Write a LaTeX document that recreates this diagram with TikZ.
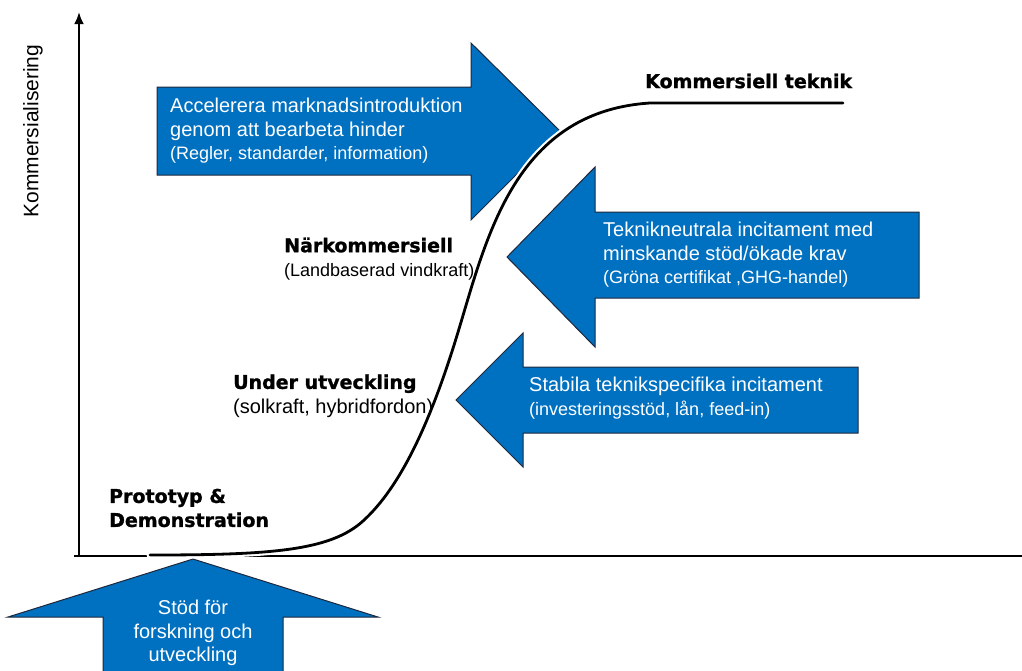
\documentclass[tikz,border=0pt]{standalone}
\usepackage{fontspec}
\setmainfont{Liberation Sans}
\newfontfamily\blackfont{DejaVu Sans}[UprightFont=* Bold, FakeBold=1.2]
\newcommand\smalltextfont{\fontsize{18}{23.5}\selectfont}
\usetikzlibrary{arrows.meta}
\definecolor{arrowblue}{RGB}{0,112,192}
\definecolor{arrowedge}{RGB}{30,40,60}
\tikzset{
  bigarrow/.style={fill=arrowblue, draw=arrowedge, line width=1pt, line join=miter},
  axisline/.style={line width=2.8pt, black},
  curveline/.style={line width=2.8pt, black, line cap=round},
  halo/.style={line width=7pt, white, line cap=round},
  intext/.style={text=white, align=left, anchor=west, inner sep=0pt, font=\fontsize{20}{23.5}\selectfont},
  stagelabel/.style={align=left, anchor=west, inner sep=0pt, font=\fontsize{19}{24.5}\selectfont},
}
\begin{document}
\begin{tikzpicture}[x=1pt,y=-1pt]
\useasboundingbox (0,0) rectangle (1022,670);
\clip (0,0) rectangle (1022,670);
% axes
\coordinate (origin) at (79,556);
\coordinate (ytop) at (79,12);
\coordinate (xleft) at (74,556);
\coordinate (xright) at (1022,556);
\draw[axisline] (xleft) -- (xright);
\draw[axisline, -{Latex[length=12pt,width=10pt]}] (origin) -- (ytop);
\node[rotate=90, inner sep=0pt, font=\fontsize{21}{24}\selectfont] (ylabel) at (33,131) {Kommersialisering};

% arrows
\draw[bigarrow] (157,87) -- (471,87) -- (471,43) -- (560,131) -- (471,220) -- (471,175) -- (157,175) -- cycle;
\draw[bigarrow] (919,212) -- (595,212) -- (595,167) -- (507,257) -- (595,347) -- (595,298) -- (919,298) -- cycle;
\draw[bigarrow] (858,367) -- (523,367) -- (523,333) -- (456,400) -- (523,467) -- (523,433) -- (858,433) -- cycle;
\draw[bigarrow] (103,680) -- (103,617) -- (8,617) -- (193,559) -- (378,617) -- (283,617) -- (283,680) -- cycle;

\node[intext] (t1) at (170,131) {Accelerera marknadsintroduktion\\genom att bearbeta hinder\\{\smalltextfont(Regler, standarder, information)}};
\node[intext] (t2) at (603,255) {Teknikneutrala incitament med\\minskande stöd/ökade krav\\{\smalltextfont(Gröna certifikat ,GHG-handel)}};
\node[intext] (t3) at (529,398) {Stabila teknikspecifika incitament\\{\smalltextfont(investeringsstöd, lån, feed-in)}};
\node[intext, align=center, anchor=center] (t4) at (193,633) {Stöd för\\forskning och\\utveckling};

% S-curve
\coordinate (c0) at (150,555);
\coordinate (c1) at (363,521);
\coordinate (c2) at (455,342);
\coordinate (c3) at (650,103);
\coordinate (c4) at (843,103);
\def\scurve{(c0) .. controls (270,555) and (330,551) .. (c1) .. controls (395,492) and (425,438) .. (c2) .. controls (485,246) and (510,112) .. (c3) -- (c4)}
\draw[halo] \scurve;
\draw[curveline] \scurve;

% stage labels
\node[stagelabel] (kt) at (645,81) {\blackfont Kommersiell teknik};
\node[stagelabel] (nk) at (284,259) {{\blackfont Närkommersiell}\\{\fontsize{18}{20}\selectfont(Landbaserad vindkraft)}};
\node[stagelabel] (uu) at (233,396) {{\blackfont Under utveckling}\\{\fontsize{20}{20}\selectfont(solkraft, hybridfordon)}};
\node[stagelabel, font=\blackfont\fontsize{19}{24}\selectfont] (pd) at (109,508) {Prototyp \&\\Demonstration};
\end{tikzpicture}
\end{document}
